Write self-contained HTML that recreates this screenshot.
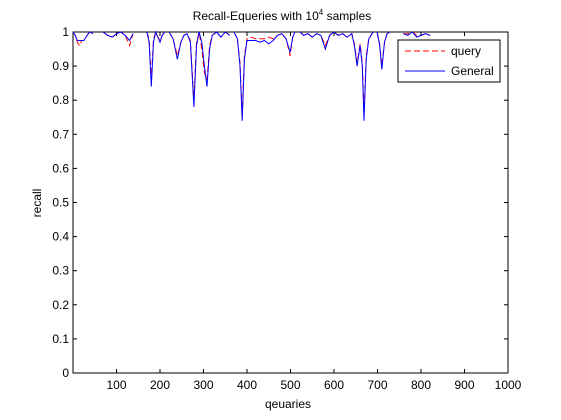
<!DOCTYPE html>
<html><head><meta charset="utf-8"><style>
body{margin:0;background:#fff;}
svg{display:block;font-family:"Liberation Sans",Arial,sans-serif;}
</style></head><body>
<svg id="chart" width="561" height="420" xmlns="http://www.w3.org/2000/svg">
<rect x="0" y="0" width="561" height="420" fill="#fff"/>
<text x="282" y="20" font-size="12" text-anchor="middle">Recall-Equeries with 10<tspan dy="-5" font-size="8">4</tspan><tspan dy="5"> samples</tspan></text>
<g id="plot"></g>
<text x="288" y="408" font-size="12" text-anchor="middle">qeuaries</text>
<text x="0" y="0" font-size="12" text-anchor="middle" transform="translate(41,203) rotate(-90)">recall</text>
<g>
<rect x="398" y="40" width="102" height="42" fill="#fff" stroke="#000" stroke-width="1"/>
<line x1="405" y1="51" x2="445" y2="51" stroke="red" stroke-dasharray="6,3"/>
<text x="451" y="55" font-size="12">query</text>
<line x1="405" y1="71" x2="445" y2="71" stroke="#00f"/>
<text x="451" y="75" font-size="12">General</text>
</g>
</svg>
<script>
const xs =      [0,5,10,15,20,25,30,35,40,46,null,69,80,90,100,110,120,130,138,null,170,175,180,185,190,195,200,205,211,null,221,230,240,248,255,262,270,278,284,290,296,302,308,314,320,330,340,350,361,null,370,378,384,389,394,400,410,420,430,440,450,460,470,480,490,499,505,510,null,522,530,540,550,560,570,580,590,600,610,620,630,641,647,653,660,665,669,674,680,690,null,699,705,710,716,722,729,null,759,770,780,790,800,810,821];
const general = [1,0.99,0.975,0.975,0.975,0.975,0.985,0.995,1,0.995,null,1,0.99,0.985,0.995,1,0.99,0.975,0.995,null,1,0.97,0.84,0.97,1,0.985,0.97,0.99,1,null,1,0.98,0.92,0.97,0.99,0.995,0.97,0.78,0.96,1,0.97,0.90,0.84,0.95,0.99,1,0.985,1,0.99,null,1,0.98,0.9,0.74,0.92,0.975,0.975,0.975,0.97,0.975,0.965,0.975,0.99,0.995,0.98,0.94,0.985,1,null,1,0.99,0.995,0.985,0.995,0.99,0.95,0.99,1,0.99,0.995,0.985,0.995,0.96,0.9,0.96,0.9,0.74,0.92,0.98,1,null,1,0.96,0.89,0.97,0.995,1,null,0.995,0.99,1,0.985,0.99,0.995,0.99];
const query =   [1,0.99,0.97,0.96,0.975,0.975,0.985,0.995,1,0.995,null,1,0.99,0.985,0.995,1,0.99,0.96,0.995,null,1,0.98,0.86,0.98,1,0.985,0.975,0.99,1,null,1,0.98,0.93,0.97,0.99,0.995,0.975,0.80,0.97,1,0.95,0.88,0.86,0.96,0.99,1,0.985,1,0.99,null,1,0.98,0.91,0.76,0.93,0.98,0.985,0.98,0.98,0.98,0.985,0.98,0.99,0.995,0.98,0.93,0.985,1,null,1,0.99,0.995,0.985,0.995,0.99,0.96,0.99,1,0.99,0.995,0.985,0.995,0.965,0.91,0.965,0.91,0.76,0.93,0.98,1,null,1,0.965,0.9,0.97,0.995,1,null,0.995,0.995,1,0.99,0.99,0.995,0.99];
const xTicks = [100,200,300,400,500,600,700,800,900,1000];
const yTicks = [0,0.1,0.2,0.3,0.4,0.5,0.6,0.7,0.8,0.9,1];
const yTickLabels = ["0","0.1","0.2","0.3","0.4","0.5","0.6","0.7","0.8","0.9","1"];

const L=73,R=508,T=32,B=373;
const sx=v=>L+(v-0)/(1000-0)*(R-L);
const sy=v=>B-(v-0)/(1-0)*(B-T);
const NS="http://www.w3.org/2000/svg";
const g=document.getElementById('plot');
function mk(t,a){const e=document.createElementNS(NS,t);for(const k in a)e.setAttribute(k,a[k]);g.appendChild(e);return e;}

const ax=mk('rect',{x:L,y:T,width:R-L,height:B-T,fill:'none',stroke:'#000','stroke-width':1});



xTicks.forEach(t=>{
  const x=sx(t);
  const l1=mk('line',{x1:x,y1:B,x2:x,y2:B-4,stroke:'#000'});
  
  
  const l2=mk('line',{x1:x,y1:T,x2:x,y2:T+4,stroke:'#000'});
  
  
  const tx=mk('text',{x:x,y:B+16,'font-size':12,'text-anchor':'middle'});
  tx.textContent=t;
  
  
});
yTicks.forEach((t,i)=>{
  const y=sy(t);
  const l1=mk('line',{x1:L,y1:y,x2:L+4,y2:y,stroke:'#000'});
  
  
  const l2=mk('line',{x1:R,y1:y,x2:R-4,y2:y,stroke:'#000'});
  
  
  const tx=mk('text',{x:L-4,y:y+4,'font-size':12,'text-anchor':'end'});
  tx.textContent=yTickLabels[i];
  
  
});

function pathFor(vals){
  let d='',pen=false;
  for(let i=0;i<xs.length;i++){
    if(xs[i]===null||vals[i]===null){pen=false;continue;}
    d+=(pen?'L':'M')+sx(xs[i]).toFixed(1)+' '+sy(vals[i]).toFixed(1);
    pen=true;
  }
  return d;
}
const pq=mk('path',{d:pathFor(query),fill:'none',stroke:'red','stroke-width':1,'stroke-dasharray':'6,3'});


const pg=mk('path',{d:pathFor(general),fill:'none',stroke:'#00f','stroke-width':1});


</script>
</body></html>
